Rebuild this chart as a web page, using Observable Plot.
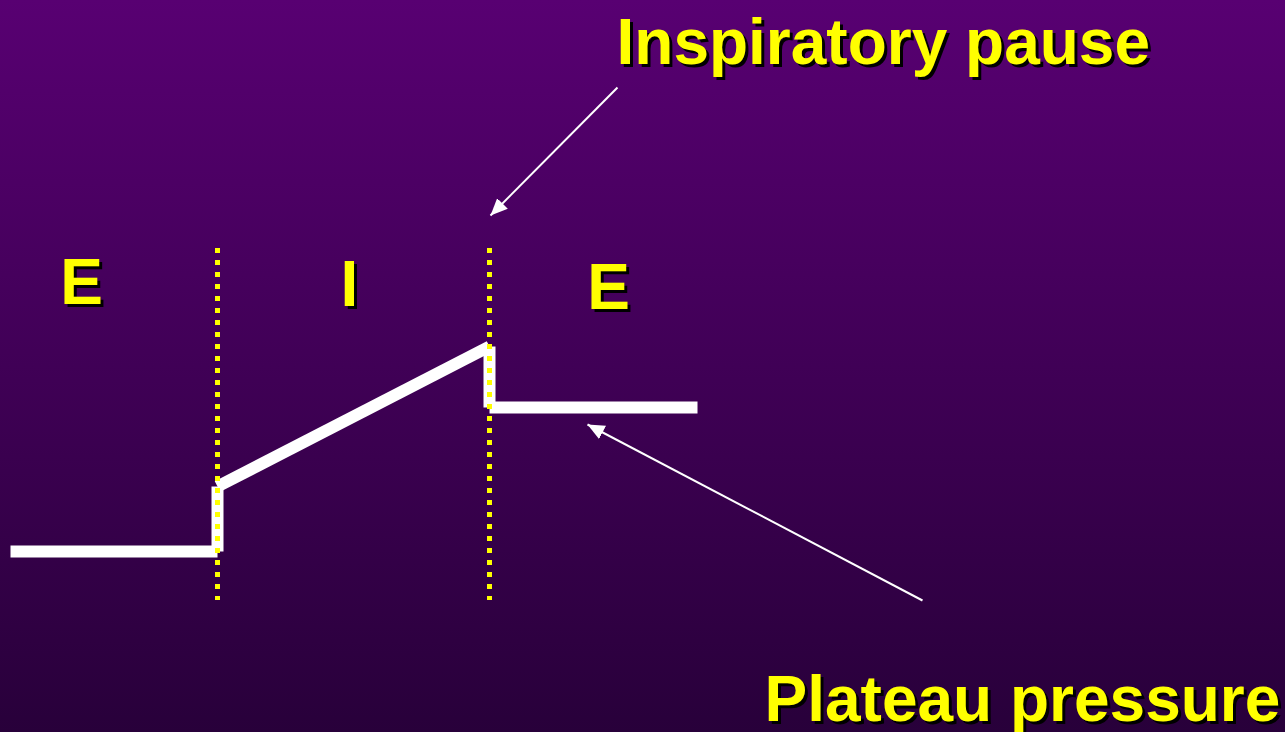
<!DOCTYPE html>
<html><head><meta charset="utf-8">
<script src="https://cdn.jsdelivr.net/npm/d3@7"></script>
<script src="https://cdn.jsdelivr.net/npm/@observablehq/plot@0.6"></script>
<style>
html,body{margin:0;padding:0;background:#3f0055;overflow:hidden;width:1285px;height:732px;}
#chart svg{display:block;}
</style></head><body><div id="chart"></div>
<script>
// Pressure waveform (time units, pressure units)
const time = [10, 217, 217, 489, 489, 697];
const pressure = [181, 181, 246, 386, 325, 325];

// Phase boundaries (yellow dotted lines)
const phaseBoundaries = [217, 489];
const boundaryTop = 484;
const boundaryBottom = 132;

// Phase labels
const phaseLabels = ["E", "I", "E"];
const phaseX = [81, 349, 608];
const phaseY = [429, 427, 424];

// Annotations
const annotText = ["Inspiratory pause", "Plateau pressure"];
const annotX = [616, 764];
const annotY = [669, 12];

// Annotation arrows
const arrowFromX = [617, 922];
const arrowFromY = [645, 132];
const arrowToX = [490, 587];
const arrowToY = [517, 308];

// each waveform segment drawn separately (butt ends, as in the original)
const wave = [];
for (let i = 0; i < time.length - 1; i++) {
  wave.push({t: time[i], p: pressure[i], seg: i});
  wave.push({t: time[i + 1], p: pressure[i + 1], seg: i});
}
const bounds = phaseBoundaries.map(x => ({x, y1: boundaryTop, y2: boundaryBottom}));
const phases = phaseLabels.map((s, i) => ({s, x: phaseX[i], y: phaseY[i]}));
const annots = annotText.map((s, i) => ({s, x: annotX[i], y: annotY[i]}));
const arrows = arrowFromX.map((x, i) => ({x1: x, y1: arrowFromY[i], x2: arrowToX[i], y2: arrowToY[i]}));

const font = "'Liberation Sans', Arial, sans-serif";
const yellow = "#ffff00";

const chart = Plot.plot({
  width: 1285,
  height: 732,
  margin: 0,
  x: {domain: [0, 1285], axis: null},
  y: {domain: [0, 732], axis: null},
  style: {background: "linear-gradient(to bottom, #580072, #28003a)", overflow: "visible"},
  marks: [
    Plot.line(wave, {x: "t", y: "p", z: "seg", stroke: "#ffffff", strokeWidth: 12, strokeLinecap: "butt", curve: "linear"}),
    Plot.ruleX(bounds, {x: "x", y1: "y1", y2: "y2", stroke: yellow, strokeWidth: 5, strokeDasharray: "5,7"}),
    Plot.link(arrows, {x1: "x1", y1: "y1", x2: "x2", y2: "y2", stroke: "#ffffff", strokeWidth: 2}),
    // shadows
    Plot.text(phases, {x: "x", y: "y", text: "s", textAnchor: "middle", lineAnchor: "bottom", dx: 3, dy: 3, fill: "#000", fontSize: 64, fontWeight: "bold", fontFamily: font}),
    Plot.text(phases, {x: "x", y: "y", text: "s", textAnchor: "middle", lineAnchor: "bottom", fill: yellow, fontSize: 64, fontWeight: "bold", fontFamily: font}),
    Plot.text(annots, {x: "x", y: "y", text: "s", textAnchor: "start", lineAnchor: "bottom", dx: 3, dy: 3, fill: "#000", fontSize: 64, fontWeight: "bold", fontFamily: font}),
    Plot.text(annots, {x: "x", y: "y", text: "s", textAnchor: "start", lineAnchor: "bottom", fill: yellow, fontSize: 64, fontWeight: "bold", fontFamily: font})
  ]
});

document.getElementById("chart").appendChild(chart);

// filled arrowheads
const svg = d3.select(chart);
const defs = svg.insert("defs", ":first-child");
defs.append("marker")
  .attr("id", "arrowhead")
  .attr("markerUnits", "userSpaceOnUse")
  .attr("viewBox", "-17 -8 18 16")
  .attr("markerWidth", 18)
  .attr("markerHeight", 16)
  .attr("refX", 0)
  .attr("refY", 0)
  .attr("orient", "auto")
  .append("path")
  .attr("d", "M0,0L-17,-7.5L-17,7.5Z")
  .attr("fill", "#ffffff");
svg.selectAll('g[aria-label="link"] path').attr("marker-end", "url(#arrowhead)");
</script>
</body></html>
